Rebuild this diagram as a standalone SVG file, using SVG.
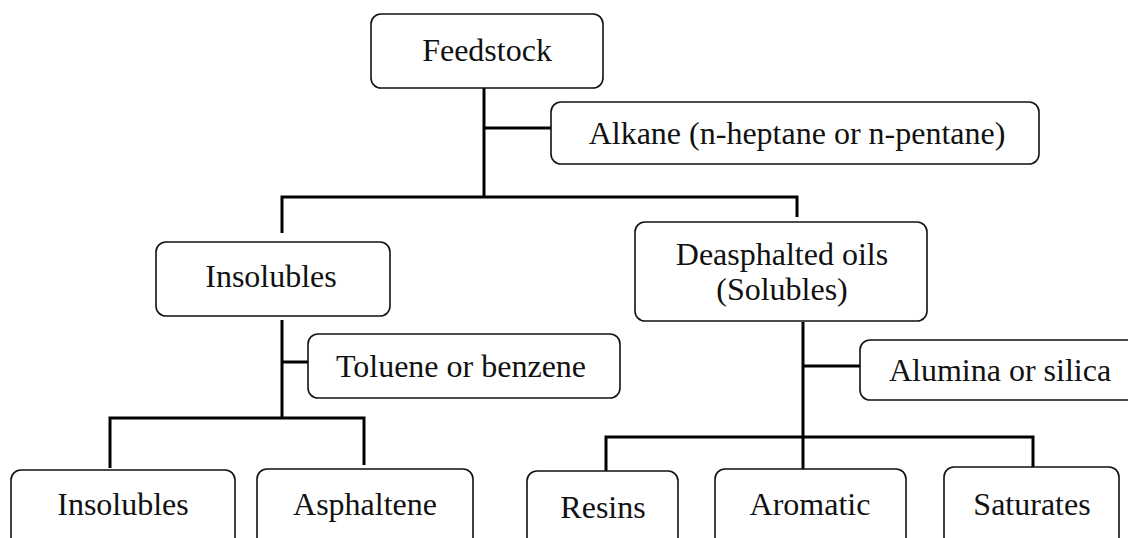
<svg xmlns="http://www.w3.org/2000/svg" width="1128" height="538" viewBox="0 0 1128 538">
<style>
.box{fill:#fff;stroke:#111;stroke-width:1.6}
.lbl{font-family:"Liberation Serif","Times New Roman",serif;font-size:32px;fill:#111;text-anchor:middle}
.con{fill:none;stroke:#000;stroke-width:3;stroke-linecap:butt;stroke-linejoin:miter}
</style>
<rect width="1128" height="538" fill="#fff"/>
<g id="connectors">
<path class="con" d="M484 88V197M484 128H551"/>
<path class="con" d="M282 233V197H797V217"/>
<path class="con" d="M282 320V418M282 362H308"/>
<path class="con" d="M110 468V418H364V465"/>
<path class="con" d="M803 322V469M803 366H860"/>
<path class="con" d="M606 471V437H1033V467"/>
</g>
<g id="feedstock"><rect class="box" x="371" y="14" width="232" height="74" rx="10"/><text class="lbl" x="487" y="61">Feedstock</text></g>
<g id="alkane"><rect class="box" x="551" y="102" width="488" height="62" rx="10"/><text class="lbl" x="797" y="144">Alkane (n-heptane or n-pentane)</text></g>
<g id="insolubles1"><rect class="box" x="156" y="242" width="234" height="74" rx="10"/><text class="lbl" x="271" y="287">Insolubles</text></g>
<g id="deasphalted"><rect class="box" x="635" y="222" width="292" height="99" rx="10"/><text class="lbl" x="782" y="265">Deasphalted oils</text><text class="lbl" x="782" y="300">(Solubles)</text></g>
<g id="toluene"><rect class="box" x="308" y="334" width="312" height="64" rx="10"/><text class="lbl" x="461" y="377">Toluene or benzene</text></g>
<g id="alumina"><rect class="box" x="860" y="340" width="280" height="60" rx="10"/><text class="lbl" x="1000" y="381">Alumina or silica</text></g>
<g id="insolubles2"><rect class="box" x="11" y="470" width="224" height="80" rx="10"/><text class="lbl" x="123" y="515">Insolubles</text></g>
<g id="asphaltene"><rect class="box" x="257" y="469" width="216" height="80" rx="10"/><text class="lbl" x="365" y="515">Asphaltene</text></g>
<g id="resins"><rect class="box" x="527" y="471" width="151" height="80" rx="10"/><text class="lbl" x="603" y="518">Resins</text></g>
<g id="aromatic"><rect class="box" x="715" y="469" width="191" height="80" rx="10"/><text class="lbl" x="810" y="515">Aromatic</text></g>
<g id="saturates"><rect class="box" x="944" y="467" width="175" height="80" rx="10"/><text class="lbl" x="1032" y="515">Saturates</text></g>
</svg>
